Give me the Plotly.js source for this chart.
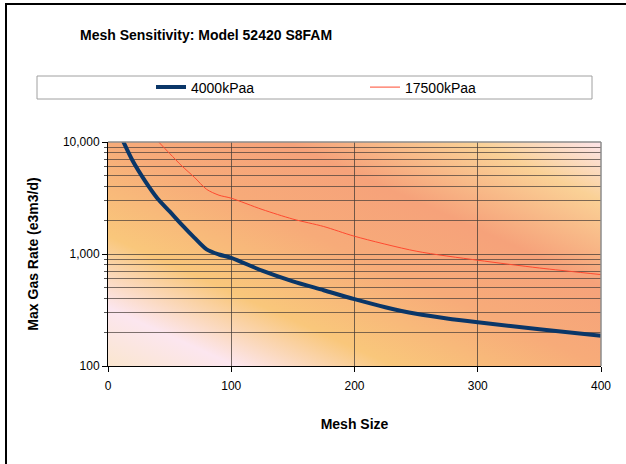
<!DOCTYPE html>
<html>
<head>
<meta charset="utf-8">
<script src="https://cdn.plot.ly/plotly-3.0.1.min.js"></script>
<style>
  html, body { margin: 0; padding: 0; background: #fff; }
  #wrap { position: relative; width: 626px; height: 464px; overflow: hidden; }
  #chart { position: absolute; left: 0; top: 0; width: 626px; height: 464px; }
  #frame { position: absolute; left: 5px; top: 3px; width: 700px; height: 600px;
           border-left: 2px solid #000; border-top: 2px solid #000; pointer-events: none; }
</style>
</head>
<body>
<div id="wrap">
  <div id="chart"></div>
  <div id="frame"></div>
</div>
<script>
// ---- data ----
const mesh4000 = [10, 20, 30, 40, 50, 60, 70, 80, 90, 100, 125, 150, 175, 200, 225, 250, 275, 300, 350, 400];
const rate4000 = [11500, 6800, 4500, 3150, 2400, 1820, 1400, 1100, 990, 925, 710, 570, 475, 395, 335, 293, 266, 246, 213, 186];
const mesh17500 = [40, 50, 60, 70, 80, 90, 100, 125, 150, 175, 200, 250, 300, 350, 400];
const rate17500 = [10300, 7900, 6100, 4850, 3780, 3350, 3150, 2500, 2050, 1760, 1440, 1060, 880, 750, 655];
const seriesNames = ['4000kPaa', '17500kPaa'];
const yMajorVals = [100, 1000, 10000];
const yMajorText = ['100', '1,000', '10,000'];
const yMinorVals = [200, 300, 400, 500, 600, 700, 800, 900, 2000, 3000, 4000, 5000, 6000, 7000, 8000, 9000];
const xTickVals = [0, 100, 200, 300, 400];
const chartTitle = 'Mesh Sensitivity: Model 52420 S8FAM';
const xTitle = 'Mesh Size';
const yTitle = 'Max Gas Rate (e3m3/d)';

// ---- gradient background for the plot area ----
function makeGradient() {
  const w = 493, h = 224;
  const c = document.createElement('canvas');
  c.width = w; c.height = h;
  const g = c.getContext('2d');
  g.save();
  g.scale(w, h);
  const lg = g.createLinearGradient(0, 1, 1, 0);
  lg.addColorStop(0.00, '#FAE6CF');
  lg.addColorStop(0.13, '#FCE6EF');
  lg.addColorStop(0.29, '#F9C77B');
  lg.addColorStop(0.50, '#F7AB79');
  lg.addColorStop(0.68, '#F6A27A');
  lg.addColorStop(0.87, '#FAD196');
  lg.addColorStop(1.00, '#FDE4EA');
  g.fillStyle = lg;
  g.fillRect(0, 0, 1, 1);
  g.restore();
  return c.toDataURL('image/png');
}

const font = 'Arial, "Liberation Sans", sans-serif';

const traces = [
  {
    x: mesh4000, y: rate4000, name: seriesNames[0], type: 'scatter', mode: 'lines',
    line: { color: '#0A3668', width: 4, shape: 'spline', smoothing: 0.8 }
  },
  {
    x: mesh17500, y: rate17500, name: seriesNames[1], type: 'scatter', mode: 'lines',
    line: { color: '#FF4A30', width: 1, shape: 'spline', smoothing: 0.8 }
  }
];

const layout = {
  width: 626, height: 464,
  margin: { l: 108, r: 25, t: 142, b: 98 },
  paper_bgcolor: '#ffffff',
  plot_bgcolor: 'rgba(0,0,0,0)',
  font: { family: font, size: 12, color: '#000' },
  showlegend: true,
  title: {
    text: '<b>' + chartTitle + '</b>',
    font: { family: font, size: 14, color: '#000' },
    x: 80 / 626, xanchor: 'left', xref: 'container',
    y: 1 - 35 / 464, yanchor: 'middle', yref: 'container'
  },
  legend: {
    orientation: 'h',
    x: (151 - 108) / 493, xanchor: 'left',
    y: (366 - 87.5) / 224, yanchor: 'middle',
    bgcolor: 'rgba(0,0,0,0)', borderwidth: 0,
    entrywidth: 169, entrywidthmode: 'pixels',
    font: { family: font, size: 14, color: '#000' },
    itemwidth: 30
  },
  xaxis: {
    type: 'linear', range: [0, 400],
    tickmode: 'array', tickvals: xTickVals,
    ticks: 'outside', ticklen: 5, tickcolor: '#000', tickwidth: 1,
    ticklabelstandoff: 4,
    showline: true, linecolor: '#000', linewidth: 1,
    showgrid: true, gridcolor: 'rgba(70,60,55,0.75)', gridwidth: 1,
    zeroline: false,
    tickfont: { family: font, size: 12, color: '#000' },
    title: { text: '<b>' + xTitle + '</b>', font: { family: font, size: 14, color: '#000' }, standoff: 26 }
  },
  yaxis: {
    type: 'log', range: [2, 4],
    tickmode: 'array', tickvals: yMajorVals, ticktext: yMajorText,
    ticks: 'outside', ticklen: 5, tickcolor: '#000', tickwidth: 1,
    showline: true, linecolor: '#000', linewidth: 1,
    showgrid: true, gridcolor: 'rgba(70,60,55,0.75)', gridwidth: 1,
    zeroline: false,
    minor: { tickmode: 'array', tickvals: yMinorVals, ticks: 'outside', ticklen: 3,
             tickcolor: '#555', showgrid: true, gridcolor: 'rgba(70,60,55,0.7)', gridwidth: 1 },
    tickfont: { family: font, size: 12, color: '#000' },
    title: { text: '<b>' + yTitle + '</b>', font: { family: font, size: 14, color: '#000' }, standoff: 20 }
  },
  images: [{
    source: makeGradient(), xref: 'paper', yref: 'paper',
    x: 0, y: 1, sizex: 1, sizey: 1, sizing: 'stretch', layer: 'below',
    xanchor: 'left', yanchor: 'top'
  }],
  shapes: [
    { type: 'rect', xref: 'paper', yref: 'paper',
      x0: (37 - 108) / 493, x1: (592 - 108) / 493,
      y0: (366 - 99) / 224, y1: (366 - 76) / 224,
      line: { color: '#A0A0A0', width: 1 }, fillcolor: 'rgba(0,0,0,0)', layer: 'below' },
    { type: 'line', xref: 'paper', yref: 'paper', x0: 0, x1: 1, y0: 1, y1: 1,
      line: { color: '#8C8C8C', width: 1.5 } },
    { type: 'line', xref: 'paper', yref: 'paper', x0: 1, x1: 1, y0: 0, y1: 1,
      line: { color: '#8C8C8C', width: 1.5 } }
  ]
};

Plotly.newPlot('chart', traces, layout, { displayModeBar: false, staticPlot: true });
</script>
</body>
</html>
